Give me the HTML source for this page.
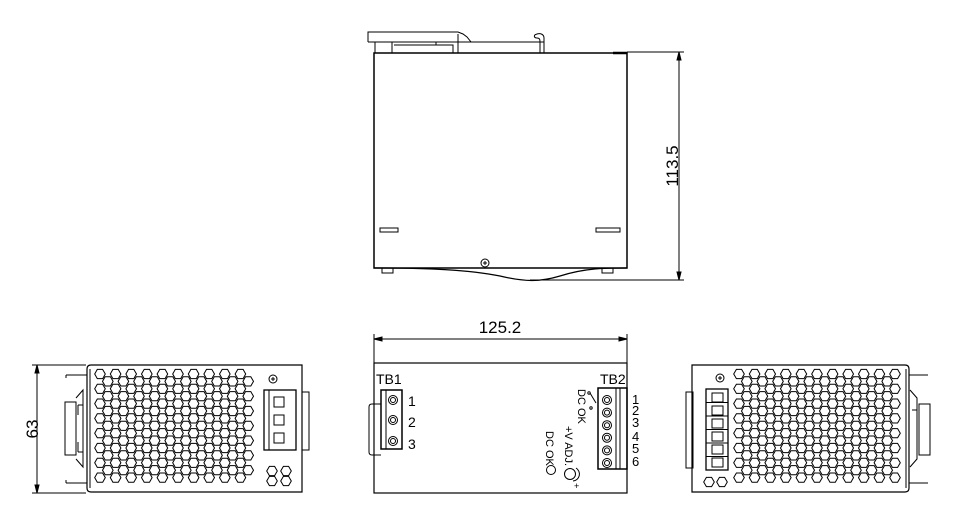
<!DOCTYPE html>
<html><head><meta charset="utf-8"><style>
html,body{margin:0;padding:0;background:#fff;}
svg{display:block;}
text{font-family:"Liberation Sans",sans-serif;fill:#000;}
</style></head><body>
<svg id="s" width="963" height="510" viewBox="0 0 963 510" xmlns="http://www.w3.org/2000/svg" fill="none" stroke="#000" stroke-width="1">
<!-- TOP VIEW -->
<rect x="374" y="53" width="253" height="215" stroke-width="1.5"/>
<path d="M374 268 C430 268 470 270 500 276 C525 282 540 282 560 276 C585 268 605 268 627 268" stroke-width="1.2"/>
<rect x="382" y="268" width="11" height="5"/><rect x="602" y="268" width="11" height="5"/>
<rect x="380" y="228" width="18" height="4"/><rect x="596" y="228" width="24" height="4"/>
<circle cx="485" cy="263" r="4"/><path d="M483 263h4M485 261v4"/>
<path d="M368 42 V32 H458 L463 34 L467 37 L471 42 H368"/>
<path d="M375 42 V53 M392 42 V53 M394 45 H453 V53 M436 42 V45"/>
<path d="M458 34 V53 M471 42 H544 V53 M544 42 L544 38 C544 34 540 33 537 34 C533 35 534 38 537 38 C540 38 540 40 540 42 V53"/>
<path d="M613 53 H627" stroke-width="2.5"/>
<path d="M627 52 H684 M530 280 H684"/>
<path d="M679 52 V280"/>
<path d="M679 52 l-2 8 h4z M679 280 l-2 -8 h4z" fill="#000"/>
<text x="0" y="0" font-size="17" transform="translate(678,166) rotate(-90)" text-anchor="middle" stroke="none">113.5</text>

<!-- MIDDLE FRONT VIEW -->
<rect x="374" y="363" width="253" height="130" stroke-width="1.2"/>
<path d="M374 334 V363 M627 334 V363 M374 339 H627"/>
<path d="M374 339 l8 -2 v4z M627 339 l-8 -2 v4z" fill="#000"/>
<text x="500" y="333" font-size="17" text-anchor="middle" stroke="none">125.2</text>
<text x="376" y="384" font-size="14" stroke="none">TB1</text>
<rect x="381" y="390" width="21" height="59" stroke-width="1.5"/>
<path d="M386 390 V449"/>
<circle cx="393" cy="400" r="4.5"/><circle cx="393" cy="420" r="4.5"/><circle cx="393" cy="441" r="4.5"/>
<circle cx="393" cy="400" r="2.5"/><circle cx="393" cy="420" r="2.5"/><circle cx="393" cy="441" r="2.5"/>
<path d="M381 404 H372 Q369 404 369 407 V452 Q369 455 372 455 H381"/>
<text x="408" y="406" font-size="14" stroke="none">1</text>
<text x="408" y="427" font-size="14" stroke="none">2</text>
<text x="408" y="449" font-size="14" stroke="none">3</text>
<text x="600" y="384" font-size="14" stroke="none">TB2</text>
<rect x="598" y="388" width="29" height="81" stroke-width="1.5"/>
<path d="M616 388 V469 M620 388 V469"/>
<g id="tb2s"></g>
<text x="632" y="404" font-size="13" stroke="none">1</text>
<text x="632" y="415" font-size="13" stroke="none">2</text>
<text x="632" y="427" font-size="13" stroke="none">3</text>
<text x="632" y="441" font-size="13" stroke="none">4</text>
<text x="632" y="453" font-size="13" stroke="none">5</text>
<text x="632" y="466" font-size="13" stroke="none">6</text>
<text font-size="11" transform="translate(578,389) rotate(90)" stroke="none">DC OK</text>
<path d="M590 393 L596 403"/><circle cx="589" cy="393" r="1.2"/><circle cx="591" cy="408" r="1.2"/>
<text font-size="11" transform="translate(565,426) rotate(90)" stroke="none">+V ADJ.</text>
<text font-size="11" transform="translate(546,431) rotate(90)" stroke="none">DC OK</text>
<circle cx="551" cy="470" r="4.5"/>
<circle cx="570" cy="474" r="5.5"/>
<path d="M573 481 A7 7 0 0 0 576 468"/>
<text x="574" y="489" font-size="9" stroke="none">+</text>

<!-- LEFT VIEW -->
<path d="M87 369 Q87 365 91 365 H302 V492 H91 Q87 492 87 488 Z" stroke-width="1.2"/>
<path d="M90 369 V488"/>
<path d="M66 375 H87 M66 483 H87 M66 375 V378 M66 480 V483"/>
<path d="M65 402 H76 V455 H65 Z"/>
<path d="M76 398 L83 390 V467 L76 459 M78 405 H83 M78 452 H83 M78 405 V415 M78 442 V452"/>
<g id="hexL"></g>
<circle cx="273" cy="379" r="4"/><path d="M271 379h4M273 377v4"/>
<rect x="264" y="390" width="32" height="60" stroke-width="1.3"/>
<path d="M269 390 V450"/>
<rect x="274" y="397" width="10" height="10"/><rect x="274" y="415" width="10" height="10"/><rect x="274" y="433" width="10" height="10"/>
<rect x="302" y="392" width="7" height="58"/>
<path d="M37 365 V493 M32 365 H86 M32 493 H86"/>
<path d="M37 365 l-2 8 h4z M37 493 l-2 -8 h4z" fill="#000"/>
<text font-size="17" transform="translate(38,429) rotate(-90)" text-anchor="middle" stroke="none">63</text>

<!-- RIGHT VIEW -->
<path d="M692 365 H905 Q909 365 909 369 V488 Q909 492 905 492 H692 Z" stroke-width="1.2"/>
<path d="M906 369 V488"/>
<path d="M909 375 H928 M909 483 H928"/>
<path d="M919 404 H930 V455 H919 Z"/>
<path d="M910 390 L917 398 V459 L910 467 M912 410 H917 V440"/>
<rect x="686" y="392" width="7" height="76"/>
<circle cx="720" cy="378" r="4"/><path d="M718 378h4M720 376v4"/>
<rect x="706" y="389" width="22" height="81" stroke-width="1.3"/>
<g id="sqR"></g>
<g id="hexR"></g>
</svg>
<script>
var NS="http://www.w3.org/2000/svg";
function el(p,t,a){var e=document.createElementNS(NS,t);for(var k in a)e.setAttribute(k,a[k]);document.getElementById(p).appendChild(e);}
function hex(p,cx,cy,r){var s="";for(var i=0;i<6;i++){var a=Math.PI/3*i;s+=(cx+r*Math.cos(a)).toFixed(1)+","+(cy+r*Math.sin(a)).toFixed(1)+" ";}el(p,"polygon",{points:s});}
var R=5.3;
for(var row=0;row<15;row++){var y=374+row*7.4;var off=row%2?7.8:0;for(var c=0;c<11;c++){var x=100+off+c*15.6;if(x>252)continue;hex("hexL",x,y,R);}}
hex("hexL",272,471,R);hex("hexL",286,471,R);hex("hexL",272,481,R);hex("hexL",286,481,R);
for(var row=0;row<15;row++){var y=374+row*7.4;var off=row%2?7.8:0;for(var c=0;c<11;c++){var x=739+off+c*15.6;if(x>900)continue;hex("hexR",x,y,R);}}
hex("hexR",709,482,R);hex("hexR",722,482,R);
for(var i=0;i<6;i++){el("sqR","rect",{x:712,y:393+i*13,width:11,height:9});el("sqR","path",{d:"M706 "+(389+i*13.5)+" H728"});}
for(var i=0;i<6;i++){el("tb2s","circle",{cx:607,cy:400+i*12.6,r:4.5});el("tb2s","circle",{cx:607,cy:400+i*12.6,r:2.5});}
</script>
</body></html>
